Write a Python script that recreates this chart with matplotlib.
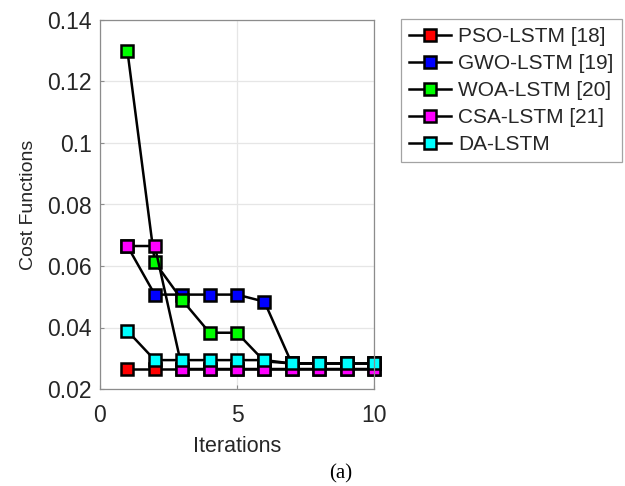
import matplotlib
matplotlib.use("Agg")
import matplotlib.pyplot as plt

iterations = [1, 2, 3, 4, 5, 6, 7, 8, 9, 10]
pso = [0.0265, 0.0265, 0.0265, 0.0265, 0.0265, 0.0265, 0.0265, 0.0265, 0.0265, 0.0265]
gwo = [0.0665, 0.0507, 0.0507, 0.0507, 0.0507, 0.0484, 0.0283, 0.0283, 0.0283, 0.0283]
woa = [0.130, 0.0612, 0.0489, 0.0383, 0.0383, 0.0290, 0.0283, 0.0283, 0.0283, 0.0283]
csa = [0.0665, 0.0665, 0.0265, 0.0265, 0.0265, 0.0265, 0.0265, 0.0265, 0.0265, 0.0265]
da = [0.0389, 0.0294, 0.0294, 0.0294, 0.0294, 0.0294, 0.0283, 0.0283, 0.0283, 0.0283]

labels = ["PSO-LSTM [18]", "GWO-LSTM [19]", "WOA-LSTM [20]", "CSA-LSTM [21]", "DA-LSTM"]
colors = ["#ff0000", "#0000ff", "#00ff00", "#ff00ff", "#00ffff"]
series = [pso, gwo, woa, csa, da]

yticks = [0.02, 0.04, 0.06, 0.08, 0.1, 0.12, 0.14]
ytick_labels = ["0.02", "0.04", "0.06", "0.08", "0.1", "0.12", "0.14"]
xticks = [0, 5, 10]

plt.rcParams['font.family'] = ['Liberation Sans', 'DejaVu Sans']

fig = plt.figure(figsize=(6.25, 4.86), dpi=100)
ax = fig.add_axes([100/625, 1-389/486, 274/625, 369/486])

for vals, lab, col in zip(series, labels, colors):
    ax.plot(iterations, vals, color="black", lw=1.8, marker="s", markersize=9,
            markerfacecolor=col, markeredgecolor="black", markeredgewidth=1.8,
            label=lab, clip_on=False)

ax.set_xlim(0, 10)
ax.set_ylim(0.02, 0.14)
ax.set_xticks(xticks)
ax.set_xticklabels([str(t) for t in xticks])
ax.set_yticks(yticks)
ax.set_yticklabels(ytick_labels)
ax.grid(True, color="#e6e6e6", lw=0.9)
ax.set_axisbelow(True)
for s in ax.spines.values():
    s.set_color("#8c8c8c")
    s.set_linewidth(0.9)
ax.tick_params(direction="in", length=3, color="#8c8c8c", labelsize=16.5,
               labelcolor="#262626")
ax.tick_params(axis="x", pad=11)
ax.tick_params(axis="y", pad=6)
ax.set_xlabel("Iterations", fontsize=15.5, color="#262626", labelpad=6)
ax.set_ylabel("Cost Functions", fontsize=14, color="#262626", labelpad=7)

leg = fig.legend(loc="upper left", bbox_to_anchor=(401/625, 1-19/486),
                 fontsize=15, frameon=True, fancybox=False, handlelength=2.0,
                 handletextpad=0.33, borderpad=0.4, labelspacing=0.38,
                 borderaxespad=0)
leg.get_frame().set_edgecolor("#8c8c8c")
leg.get_frame().set_linewidth(0.9)
for t in leg.get_texts():
    t.set_color("#262626")

fig.text(341/625, 1-474/486, "(a)", fontsize=15, family="Liberation Serif",
         ha="center", va="center", color="black")

fig.savefig("out.png", dpi=100)
